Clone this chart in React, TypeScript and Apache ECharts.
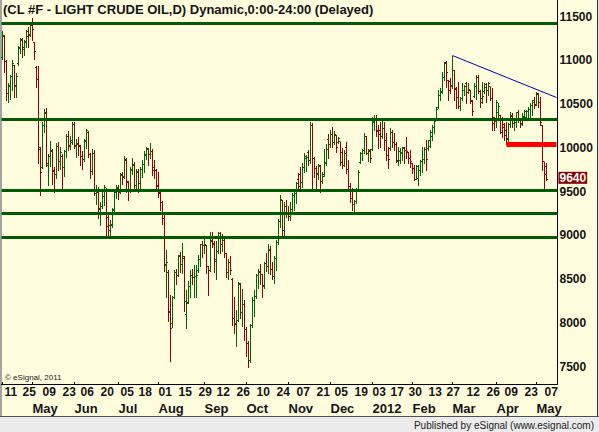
import React, { useEffect, useRef } from 'react';
import * as echarts from 'echarts';

// ---------- text ----------
const TITLE = '(CL #F - LIGHT CRUDE OIL,D) Dynamic,0:00-24:00 (Delayed)';
const COPYRIGHT = '\u00A9 eSignal, 2011';
const PUBLISHED = 'Published by eSignal (www.esignal.com)';

// ---------- calendar ----------
const firstDay = '2011-04-08';
const lastDay = '2012-05-15'; // includes empty slots on the right
const holidays = ['2011-04-22', '2011-05-30', '2011-07-04', '2011-09-05', '2011-11-24', '2011-12-26', '2012-01-02', '2012-01-16', '2012-02-20', '2012-04-06'];

const dayLabelDates = ['2011-04-11', '2011-04-25', '2011-05-09', '2011-05-23', '2011-06-06', '2011-06-20', '2011-07-05', '2011-07-18', '2011-08-01', '2011-08-15', '2011-08-29', '2011-09-12', '2011-09-26', '2011-10-10', '2011-10-24', '2011-11-07', '2011-11-21', '2011-12-05', '2011-12-19', '2012-01-03', '2012-01-17', '2012-01-30', '2012-02-13', '2012-02-27', '2012-03-12', '2012-03-26', '2012-04-09', '2012-04-23', '2012-05-07'];

const monthLabelDates = ['2011-05-02', '2011-06-01', '2011-07-01', '2011-08-01', '2011-09-01', '2011-10-03', '2011-11-01', '2011-12-01', '2012-01-03', '2012-02-01', '2012-03-01', '2012-04-02', '2012-05-01'];
const monthLabelTexts = ['May', 'Jun', 'Jul', 'Aug', 'Sep', 'Oct', 'Nov', 'Dec', '2012', 'Feb', 'Mar', 'Apr', 'May'];
const monthTickDates = ['2011-04-08', ...monthLabelDates];

// ---------- price data [open, high, low, close] (price x 100) ----------
const ohlcApr2011 = [
  [11030, 11330, 11020, 11279], [11270, 11290, 10870, 10992], [10990, 11000, 10550, 10625], [10620, 10740, 10520, 10711],
  [10700, 10830, 10560, 10811], [10810, 11000, 10660, 10966], [10940, 10950, 10580, 10712], [10700, 10850, 10580, 10815],
  [10960, 11160, 10950, 11145], [11140, 11250, 11080, 11229], [11240, 11250, 11040, 11150], [11120, 11230, 11060, 11221],
  [11200, 11350, 11150, 11276], [11330, 11380, 11150, 11286], [11290, 11420, 11280, 11393],
];
const ohlcMay2011 = [
  [11400, 11483, 11230, 11352], [11200, 11214, 11020, 11105], [10920, 10930, 10700, 10780], [10780, 10930, 9823, 9980],
  [10000, 10014, 9461, 9718], [9780, 10300, 9766, 10255], [10250, 10440, 10180, 10388], [10400, 10450, 9790, 9821],
  [9800, 9930, 9580, 9897], [9900, 10080, 9790, 9965], [9960, 9990, 9590, 9737], [9730, 9780, 9490, 9691],
  [9700, 10050, 9660, 10010], [10020, 10070, 9750, 9844], [9840, 10010, 9760, 9949], [9900, 9930, 9530, 9770],
  [9770, 9980, 9680, 9959], [9960, 10160, 9890, 10132], [10130, 10190, 9980, 10023], [10020, 10130, 9990, 10059],
  [10080, 10290, 10040, 10270],
];
const ohlcJun2011 = [
  [10270, 10300, 10000, 10029], [10020, 10100, 9890, 10040], [10050, 10120, 9920, 10022], [10010, 10030, 9800, 9901],
  [9900, 9960, 9760, 9867], [9870, 10100, 9850, 10074], [10080, 10220, 10000, 10193], [10180, 10190, 9900, 9929],
  [9920, 9940, 9650, 9730], [9730, 9990, 9700, 9937], [9930, 9970, 9460, 9481], [9480, 9570, 9360, 9495],
  [9490, 9550, 9200, 9301], [9300, 9380, 9120, 9326], [9330, 9510, 9310, 9440], [9440, 9570, 9350, 9541],
  [9520, 9540, 8970, 9102], [9200, 9230, 8966, 9116], [9050, 9180, 8990, 9110], [9120, 9310, 9090, 9289],
  [9290, 9510, 9270, 9496], [9490, 9580, 9430, 9542],
];
const ohlcJul2011 = [
  [9540, 9570, 9410, 9494], [9500, 9710, 9480, 9689], [9690, 9720, 9590, 9665], [9670, 9910, 9660, 9867],
  [9860, 9880, 9500, 9620], [9600, 9620, 9400, 9515], [9520, 9780, 9490, 9743], [9750, 9880, 9700, 9805],
  [9800, 9840, 9530, 9569], [9570, 9760, 9540, 9724], [9720, 9760, 9490, 9593], [9590, 9780, 9540, 9749],
  [9750, 9860, 9670, 9814], [9810, 9960, 9720, 9913], [9920, 10010, 9870, 9987], [9980, 10000, 9800, 9920],
  [9920, 10060, 9880, 9959], [9960, 9990, 9690, 9740], [9780, 9860, 9650, 9744], [9740, 9760, 9520, 9570],
];
const ohlcAug2011 = [
  [9560, 9720, 9440, 9489], [9480, 9500, 9290, 9379], [9370, 9390, 9130, 9193], [9190, 9230, 8590, 8663],
  [8650, 8830, 8290, 8688], [8580, 8600, 8020, 8131], [8120, 8320, 7560, 7930], [7990, 8310, 7950, 8289],
  [8290, 8600, 8280, 8572], [8580, 8620, 8440, 8538], [8540, 8780, 8530, 8769], [8760, 8810, 8580, 8665],
  [8670, 8910, 8570, 8758], [8740, 8760, 8130, 8238], [8100, 8380, 7940, 8226], [8230, 8480, 8230, 8412],
  [8410, 8600, 8290, 8544], [8540, 8620, 8440, 8516], [8520, 8660, 8300, 8530], [8530, 8660, 8300, 8537],
  [8600, 8780, 8580, 8727], [8720, 8900, 8650, 8890], [8890, 8940, 8750, 8881],
];
const ohlcSep2011 = [
  [8880, 8990, 8800, 8893], [8880, 8890, 8570, 8645], [8640, 8650, 8320, 8602], [8600, 9040, 8590, 8934],
  [8940, 9040, 8870, 8905], [8900, 8940, 8580, 8724], [8700, 8930, 8500, 8819], [8820, 9040, 8800, 9021],
  [9020, 9040, 8800, 8891], [8900, 9020, 8820, 8940], [8940, 8990, 8750, 8796], [8790, 8800, 8520, 8570],
  [8570, 8730, 8500, 8692], [8690, 8760, 8560, 8592], [8500, 8510, 7980, 8051], [8050, 8290, 7880, 7985],
  [7990, 8150, 7730, 8024], [8030, 8470, 8020, 8445], [8440, 8460, 8060, 8121], [8120, 8390, 7960, 8214],
  [8210, 8260, 7800, 7920],
];
const ohlcOct2011 = [
  [7920, 7950, 7620, 7761], [7760, 7790, 7499, 7567], [7570, 7990, 7550, 7968], [7970, 8300, 7950, 8259],
  [8260, 8380, 8080, 8298], [8300, 8560, 8280, 8541], [8540, 8610, 8400, 8581], [8580, 8670, 8440, 8557],
  [8550, 8560, 8290, 8423], [8420, 8700, 8400, 8680], [8680, 8800, 8590, 8638], [8640, 8900, 8570, 8834],
  [8830, 8880, 8560, 8611], [8610, 8690, 8500, 8530], [8530, 8760, 8450, 8740], [8740, 8950, 8600, 8920],
  [8920, 9190, 8900, 9160], [9160, 9460, 9100, 9410], [9400, 9404, 8985, 9050], [9050, 9380, 9000, 9332],
  [9330, 9400, 9210, 9250],
];
const ohlcNov2011 = [
  [9250, 9330, 9180, 9219], [9220, 9380, 9176, 9300], [9300, 9480, 9280, 9450], [9450, 9519, 9290, 9480],
  [9480, 9614, 9366, 9590], [9640, 9709, 9519, 9560], [9700, 9785, 9519, 9600], [9600, 9823, 9557, 9780],
  [9780, 9938, 9728, 9900], [9880, 9920, 9740, 9890], [9950, 9976, 9804, 9850], [9850, 10300, 9823, 10259],
  [10260, 10281, 9519, 9882], [9880, 9890, 9670, 9767], [9760, 9790, 9520, 9701], [9700, 9820, 9640, 9801],
  [9790, 9800, 9500, 9617], [9620, 9720, 9600, 9677], [9690, 9990, 9680, 9821], [9830, 10040, 9800, 9979],
  [10100, 10160, 9880, 10036],
];
const ohlcDec2011 = [
  [10040, 10200, 10010, 10150], [10150, 10240, 10010, 10060], [10060, 10190, 10040, 10150], [10140, 10150, 9957, 10000],
  [10060, 10128, 10052, 10110], [10070, 10071, 9804, 9834], [9950, 9995, 9766, 9800], [9800, 9970, 9790, 9940],
  [10000, 10071, 9709, 9750], [9750, 9861, 9538, 9560], [9560, 9595, 9385, 9420], [9420, 9538, 9290, 9353],
  [9350, 9404, 9271, 9388], [9390, 9538, 9366, 9520], [9520, 9747, 9519, 9720], [9830, 9957, 9823, 9940],
  [9940, 9990, 9860, 9968], [9970, 10166, 9938, 10134], [10130, 10140, 9930, 9936], [9930, 9990, 9850, 9965],
  [9960, 9990, 9840, 9883],
];
const ohlcJan2012 = [
  [9980, 10357, 9976, 10296], [10290, 10376, 10204, 10322], [10320, 10376, 10130, 10181], [10200, 10261, 9995, 10156],
  [10200, 10300, 10014, 10131], [10130, 10337, 10109, 10224], [10220, 10299, 9976, 10087], [10080, 10166, 9861, 9910],
  [9910, 10014, 9766, 9870], [9990, 10223, 9976, 10180], [10180, 10204, 10014, 10059], [10060, 10166, 9976, 10039],
  [10040, 10071, 9842, 9846], [9850, 10014, 9804, 9958], [9860, 9995, 9823, 9945], [9940, 10014, 9861, 9990],
  [10000, 10014, 9823, 9970], [9970, 10128, 9880, 9956], [9950, 9957, 9823, 9878], [9880, 9976, 9785, 9848],
];
const ohlcFeb2012 = [
  [9820, 9823, 9709, 9761], [9760, 9804, 9633, 9636], [9640, 9804, 9640, 9784], [9650, 9804, 9576, 9741],
  [9740, 9861, 9690, 9841], [9840, 10014, 9728, 9870], [9870, 10014, 9823, 9984], [9980, 10090, 9747, 9867],
  [9990, 10090, 9976, 10080], [10020, 10204, 10014, 10170], [10130, 10261, 10090, 10230], [10230, 10337, 10166, 10300],
  [10320, 10471, 10318, 10440], [10460, 10661, 10452, 10600], [10600, 10680, 10547, 10640], [10630, 10871, 10623, 10800],
  [10800, 10985, 10776, 10960], [10980, 10990, 10700, 10856], [10770, 10776, 10547, 10655], [10760, 10795, 10623, 10707],
];
const ohlcMar2012 = [
  [10700, 11050, 10680, 10884], [10880, 10890, 10547, 10670], [10680, 10700, 10452, 10572], [10570, 10757, 10452, 10470],
  [10470, 10585, 10433, 10566], [10560, 10737, 10547, 10658], [10660, 10718, 10604, 10700], [10730, 10757, 10509, 10634],
  [10630, 10737, 10623, 10671], [10650, 10661, 10509, 10543], [10530, 10547, 10375, 10420], [10590, 10737, 10585, 10706],
  [10700, 10833, 10560, 10809], [10800, 10833, 10623, 10640], [10640, 10661, 10470, 10561], [10520, 10757, 10509, 10587],
  [10640, 10737, 10623, 10687], [10720, 10737, 10528, 10650], [10650, 10757, 10604, 10733], [10700, 10700, 10547, 10560],
  [10560, 10680, 10204, 10278], [10350, 10357, 10204, 10302],
];
const ohlcApr2012 = [
  [10300, 10547, 10242, 10523], [10400, 10509, 10320, 10470], [10370, 10375, 10166, 10180], [10340, 10357, 10128, 10231],
  [10270, 10280, 10090, 10146], [10200, 10300, 10041, 10102], [10100, 10280, 10080, 10270], [10270, 10414, 10242, 10364],
  [10360, 10395, 10242, 10283], [10280, 10338, 10204, 10293], [10290, 10414, 10242, 10400], [10400, 10433, 10300, 10320],
  [10320, 10338, 10242, 10277], [10270, 10395, 10261, 10355], [10350, 10433, 10318, 10411], [10350, 10433, 10338, 10415],
  [10410, 10471, 10356, 10442], [10440, 10509, 10356, 10485], [10480, 10547, 10376, 10523], [10540, 10585, 10452, 10487],
];
const ohlcMay2012 = [
  [10500, 10642, 10490, 10616], [10610, 10623, 10471, 10522], [10520, 10585, 10261, 10290], [10260, 10261, 9747, 9849],
  [9840, 9842, 9526, 9700], [9790, 9823, 9633, 9640],
];

// ---------- drawn studies ----------
const lastPrice = 9640;
const supportLevels = [11424, 10330, 9518, 9255, 8982];
const redLevelStart = '2012-04-10';
const redLevelValue = 10041;
const trendDates = ['2012-03-01', '2012-05-15'];
const trendValues = [11055, 10575];

// ---------- styles ----------
const BG = '#FFFDDE';
const UP = '#006400';
const DOWN = '#980000';
const LEVEL = '#005C00';
const FONT = "'Liberation Sans', Arial, sans-serif";
const TXT = '#141414';

function buildCategories(): string[] {
  const out: string[] = [];
  const hol = new Set(holidays);
  const [y0, m0, d0] = firstDay.split('-').map(Number);
  const [y1, m1, d1] = lastDay.split('-').map(Number);
  let t = Date.UTC(y0, m0 - 1, d0);
  const end = Date.UTC(y1, m1 - 1, d1);
  while (t <= end) {
    const dt = new Date(t);
    const wd = dt.getUTCDay();
    const s = dt.toISOString().slice(0, 10);
    if (wd !== 0 && wd !== 6 && !hol.has(s)) out.push(s);
    t += 86400000;
  }
  return out;
}

export default function App() {
  const ref = useRef<HTMLDivElement>(null);
  useEffect(() => {
    if (!ref.current) return;
    const chart = echarts.init(ref.current, null, { renderer: 'svg' });
    const categories = buildCategories();
    const bars = [
      ...ohlcApr2011, ...ohlcMay2011, ...ohlcJun2011, ...ohlcJul2011, ...ohlcAug2011, ...ohlcSep2011,
      ...ohlcOct2011, ...ohlcNov2011, ...ohlcDec2011, ...ohlcJan2012, ...ohlcFeb2012, ...ohlcMar2012,
      ...ohlcApr2012, ...ohlcMay2012,
    ];
    const seriesData = bars.map((b, i) => [i, b[0], b[1], b[2], b[3]]);
    const dayLabels = new Map<string, string>(dayLabelDates.map((d) => [d, d.slice(8, 10)]));
    const monthLabels = new Map<string, string>(monthLabelDates.map((d, i) => [d, monthLabelTexts[i]]));
    const monthTicks = new Set(monthTickDates);
    const labelFont = { fontFamily: FONT, fontSize: 12, fontWeight: 'bold' as const, color: TXT };
    const snap = (v: number) => Math.round(v - 0.5) + 0.5;

    chart.setOption({
      animation: false,
      backgroundColor: BG,
      title: {
        text: TITLE, left: 3, top: 3, padding: 0,
        textStyle: { fontFamily: FONT, fontSize: 13, fontWeight: 'bold', color: TXT },
      },
      grid: { left: 1.5, top: 0, width: 556, height: 384, containLabel: false, outerBoundsMode: 'none' },
      xAxis: [
        {
          type: 'category', data: categories, boundaryGap: true,
          axisLine: { show: true, lineStyle: { color: '#000', width: 1 } },
          axisTick: { show: true, alignWithLabel: true, inside: true, length: 2, interval: (_i: number, v: string) => monthTicks.has(v), lineStyle: { color: '#000' } },
          axisLabel: { ...labelFont, align: 'left', margin: 2, interval: (_i: number, v: string) => dayLabels.has(v), formatter: (v: string) => dayLabels.get(v) ?? '' },
          splitLine: { show: false },
        },
        {
          type: 'category', data: categories, boundaryGap: true, position: 'bottom', offset: 16,
          axisLine: { show: false }, axisTick: { show: false }, splitLine: { show: false },
          axisLabel: { ...labelFont, fontSize: 13, align: 'left', margin: 2, interval: (_i: number, v: string) => monthLabels.has(v), formatter: (v: string) => monthLabels.get(v) ?? '' },
        },
      ],
      yAxis: {
        type: 'value', position: 'right', min: 7300, max: 11690, interval: 100, scale: true,
        axisLine: { show: true, lineStyle: { color: '#000', width: 1 } },
        axisTick: { show: false }, splitLine: { show: false },
        axisLabel: { ...labelFont, margin: 2, lineHeight: 10, formatter: (v: number) => (v % 500 === 0 ? String(v) : '') },
      },
      series: [
        {
          type: 'line', data: [], z: 1, silent: true,
          markLine: {
            silent: true, symbol: ['none', 'none'], animation: false,
            lineStyle: { color: LEVEL, width: 3, type: 'solid' }, label: { show: false },
            data: supportLevels.map((v) => ({ yAxis: v })),
          },
        },
        {
          type: 'custom', z: 2, silent: true,
          encode: { x: 0, y: [1, 2, 3, 4] },
          data: seriesData,
          renderItem: (_p: any, api: any) => {
            const i = api.value(0);
            const o = api.value(1), h = api.value(2), l = api.value(3), c = api.value(4);
            const pH = api.coord([i, h]);
            const pL = api.coord([i, l]);
            const yO = snap(api.coord([i, o])[1]);
            const yC = snap(api.coord([i, c])[1]);
            const x = snap(pH[0]);
            const color = c >= o ? UP : DOWN;
            const st = { stroke: color, lineWidth: 1 };
            return {
              type: 'group',
              children: [
                { type: 'line', shape: { x1: x, y1: Math.round(pH[1]), x2: x, y2: Math.round(pL[1]) + 1 }, style: st },
                { type: 'line', shape: { x1: x - 1.5, y1: yO, x2: x, y2: yO }, style: st },
                { type: 'line', shape: { x1: x, y1: yC, x2: x + 1.5, y2: yC }, style: st },
              ],
            };
          },
          markLine: {
            silent: true, symbol: ['none', 'none'], animation: false,
            lineStyle: { color: 'rgba(0,0,0,0)', width: 1 },
            label: {
              show: true, position: 'end', distance: 1, formatter: String(lastPrice), offset: [0, -1.5],
              color: '#FFFFFF', backgroundColor: '#8B0000', fontFamily: FONT, fontSize: 12, fontWeight: 'bold',
              padding: [1, 1, 0, 1], lineHeight: 11,
            },
            data: [{ yAxis: lastPrice }],
          },
        },
        {
          type: 'line', z: 3, silent: true, symbol: 'none',
          data: trendDates.map((d, i) => [d, trendValues[i]]),
          lineStyle: { color: '#0000A8', width: 1 },
          markLine: {
            silent: true, symbol: ['none', 'none'], animation: false,
            lineStyle: { color: '#FF0000', width: 5, type: 'solid' }, label: { show: false },
            data: [[{ coord: [redLevelStart, redLevelValue] }, { coord: [lastDay, redLevelValue] }]],
          },
        },
      ],
      graphic: [
        { type: 'rect', silent: true, shape: { x: 0, y: 0, width: 2, height: 417 }, style: { fill: '#A4A4A4' } },
        { type: 'rect', silent: true, shape: { x: 597, y: 0, width: 1, height: 417 }, style: { fill: '#303030' } },
        { type: 'rect', silent: true, shape: { x: 598, y: 0, width: 1, height: 417 }, style: { fill: '#E8E8E8' } },
        { type: 'rect', silent: true, shape: { x: 0, y: 417, width: 599, height: 15 }, style: { fill: '#ECECEC' } },
        { type: 'rect', silent: true, shape: { x: 0, y: 416, width: 599, height: 1 }, style: { fill: '#505050' } },
        {
          type: 'text', silent: true,
          style: { text: PUBLISHED, x: 594, y: 425, fill: '#1A1A1A', font: "10px 'Liberation Sans', sans-serif", textAlign: 'right', textVerticalAlign: 'middle' },
        },
        {
          type: 'text', silent: true,
          style: { text: COPYRIGHT, x: 5, y: 377, fill: '#1A1A1A', font: "8px 'Liberation Sans', sans-serif", textAlign: 'left', textVerticalAlign: 'middle' },
        },
      ],
    });
    return () => chart.dispose();
  }, []);
  return <div ref={ref} style={{ position: 'fixed', left: 0, top: 0, width: 599, height: 432 }} />;
}
